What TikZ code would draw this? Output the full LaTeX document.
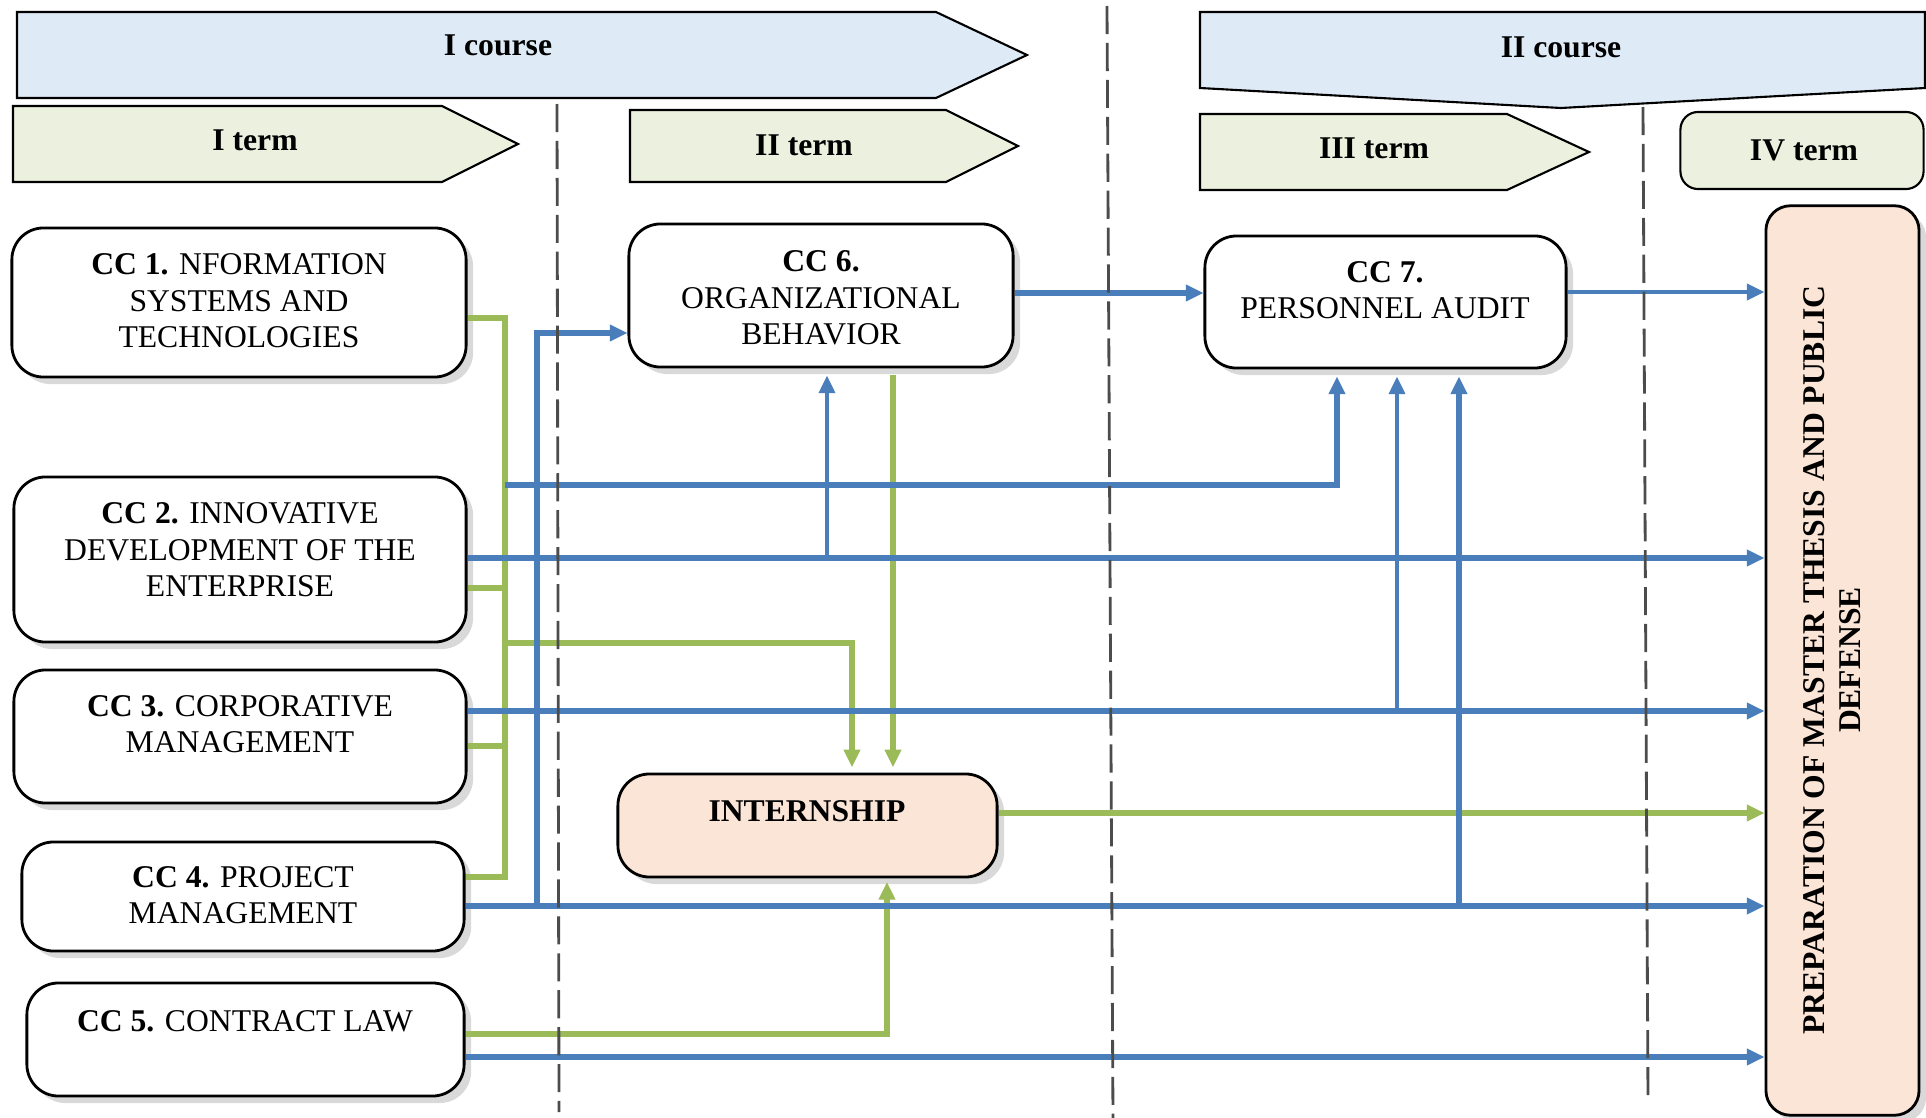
\documentclass[tikz,border=0pt]{standalone}
\usepackage{fontspec}
\setmainfont{Liberation Serif}
\usetikzlibrary{arrows.meta,shadows}

\definecolor{courseblue}{HTML}{DEEBF7}
\definecolor{termgreen}{HTML}{EBF1DE}
\definecolor{peach}{HTML}{FBE5D6}
\definecolor{lineblue}{HTML}{4A7EBB}
\definecolor{linegreen}{HTML}{9BBB59}

\tikzset{
  ccbox/.style={draw, line width=0.8pt, rounded corners=9pt, fill=white, inner sep=0pt,
    drop shadow={opacity=0.3, shadow xshift=2pt, shadow yshift=-2pt}},
  banner/.style={draw, line width=0.6pt},
  txt/.style={align=center, inner sep=1pt, font=\fontsize{9}{10.4}\selectfont},
  hdr/.style={align=center, inner sep=1pt, font=\fontsize{9}{10.4}\selectfont\bfseries},
  bl/.style={draw=lineblue, line width=1.5pt},
  blthin/.style={draw=lineblue, line width=1.1pt},
  gr/.style={draw=linegreen, line width=1.6pt},
  arr/.style={-{Triangle[length=5pt,width=4.5pt]}},
  divider/.style={draw=black!70, line width=0.8pt, dash pattern=on 8pt off 2.5pt},
}

\begin{document}
\begin{tikzpicture}[x=0.01cm, y=-0.01cm]
\useasboundingbox (0,0) rectangle (1926,1118);

% course and term banners
\draw[banner, fill=courseblue] (17,12) -- (936,12) -- (1027,55) -- (936,98) -- (17,98) -- cycle;
\draw[banner, fill=courseblue] (1200,12) -- (1925,12) -- (1925,88) -- (1561,108) -- (1200,88) -- cycle;
\draw[banner, fill=termgreen] (13,106) -- (442,106) -- (518,144) -- (442,182) -- (13,182) -- cycle;
\draw[banner, fill=termgreen] (630,110) -- (946,110) -- (1018,146) -- (946,182) -- (630,182) -- cycle;
\draw[banner, fill=termgreen] (1200,114) -- (1507,114) -- (1589,152) -- (1507,190) -- (1200,190) -- cycle;
\node[banner, fill=termgreen, rounded corners=5pt, minimum width=2.43cm, minimum height=0.77cm] (term4) at (1802,150.5) {};

\node[hdr] (course1) at (498,45) {I course};
\node[hdr] (course2) at (1561,47) {II course};
\node[hdr] (term1t) at (255,140) {I term};
\node[hdr] (term2t) at (804,145) {II term};
\node[hdr] (term3t) at (1374,148) {III term};
\node[hdr] (term4t) at (1804,150) {IV term};

% disciplines
\node[ccbox, minimum width=4.54cm, minimum height=1.49cm] (cc1) at (239,302.5) {};
\node[ccbox, minimum width=4.52cm, minimum height=1.65cm] (cc2) at (240,559.5) {};
\node[ccbox, minimum width=4.52cm, minimum height=1.33cm] (cc3) at (240,736.5) {};
\node[ccbox, minimum width=4.42cm, minimum height=1.09cm] (cc4) at (243,896.5) {};
\node[ccbox, minimum width=4.37cm, minimum height=1.13cm] (cc5) at (245.5,1039.5) {};
\node[ccbox, minimum width=3.84cm, minimum height=1.43cm] (cc6) at (821,295.5) {};
\node[ccbox, minimum width=3.61cm, minimum height=1.32cm] (cc7) at (1385.5,302) {};
\node[ccbox, fill=peach, minimum width=3.79cm, minimum height=1.03cm] (intern) at (807.5,825.5) {};
\node[ccbox, fill=peach, rounded corners=7pt, minimum width=1.53cm, minimum height=9.09cm] (thesis) at (1842.5,660.5) {};

\node[txt] (cc1t) at (239,301) {\textbf{CC 1.} NFORMATION\\SYSTEMS AND\\TECHNOLOGIES};
\node[txt] (cc2t) at (240,550) {\textbf{CC 2.} INNOVATIVE\\DEVELOPMENT OF THE\\ENTERPRISE};
\node[txt] (cc3t) at (240,724) {\textbf{CC 3.} CORPORATIVE\\MANAGEMENT};
\node[txt] (cc4t) at (243,895) {\textbf{CC 4.} PROJECT\\MANAGEMENT};
\node[txt] (cc5t) at (245,1021) {\textbf{CC 5.} CONTRACT LAW};
\node[txt] (cc6t) at (821,298) {\textbf{CC 6.}\\ORGANIZATIONAL\\BEHAVIOR};
\node[txt] (cc7t) at (1385,290) {\textbf{CC 7.}\\PERSONNEL AUDIT};
\node[hdr] (internt) at (807,811) {INTERNSHIP};
\node[hdr, rotate=90] (thesist) at (1832,660) {PREPARATION OF MASTER THESIS AND PUBLIC\\DEFENSE};

% green links
\draw[gr] (cc1.east |- 0,318) -| (505,877) -- (cc4.east |- 0,877);
\draw[gr] (cc2.east |- 0,588) -- (505,588);
\draw[gr] (cc3.east |- 0,746) -- (505,746);
\draw[gr,arr,shorten >=1.5pt] (505,643) -| (852,0 |- intern.north);
\draw[gr,arr,shorten <=2pt,shorten >=1.5pt] (cc6.south -| 893,0) -- (893,0 |- intern.north);
\draw[gr,arr,shorten >=1pt] (cc5.east |- 0,1034) -| (887,0 |- intern.south);
\draw[gr,arr] (intern.east |- 0,813) -- (thesis.west |- 0,813);

% blue links
\coordinate (j1) at (505,485);
\coordinate (j2) at (827,558);
\coordinate (j3) at (1397,711);
\coordinate (j4a) at (537,906);
\coordinate (j4b) at (1459,906);

\draw[bl,arr] (cc6.east |- 0,293) -- (cc7.west |- 0,293);
\draw[blthin,arr] (cc7.east |- 0,292) -- (thesis.west |- 0,292);
\draw[bl,arr] (cc2.east |- 0,558) -- (thesis.west |- 0,558);
\draw[bl,arr] (cc3.east |- 0,711) -- (thesis.west |- 0,711);
\draw[bl,arr] (cc4.east |- 0,906) -- (thesis.west |- 0,906);
\draw[bl,arr] (cc5.east |- 0,1057) -- (thesis.west |- 0,1057);
\draw[bl,arr] (j4a) |- (cc6.west |- 0,333);
\draw[bl,arr,shorten >=2pt] (j1) -| (1337,0 |- cc7.south);
\draw[blthin,arr,shorten >=2pt] (j2) -- (j2 |- cc6.south);
\draw[blthin,arr,shorten >=2pt] (j3) -- (j3 |- cc7.south);
\draw[bl,arr,shorten >=2pt] (j4b) -- (j4b |- cc7.south);

% term dividers
\coordinate (d1a) at (557,104);
\coordinate (d1b) at (559,1112);
\coordinate (d2a) at (1107,6);
\coordinate (d2b) at (1113,1118);
\coordinate (d3a) at (1643,107);
\coordinate (d3b) at (1648,1100);
\draw[divider] (d1a) -- (d1b);
\draw[divider] (d2a) -- (d2b);
\draw[divider] (d3a) -- (d3b);
\end{tikzpicture}
\end{document}
